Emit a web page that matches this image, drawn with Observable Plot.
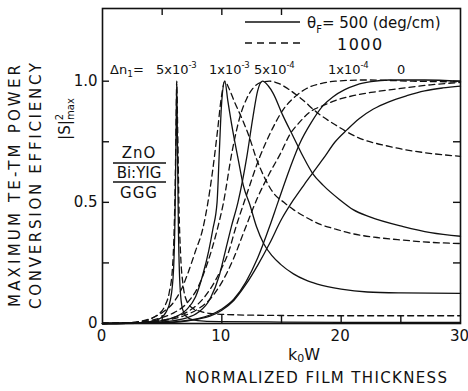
<!DOCTYPE html>
<html><head><meta charset="utf-8">
<script src="https://cdn.jsdelivr.net/npm/d3@7"></script>
<script src="https://cdn.jsdelivr.net/npm/@observablehq/plot@0.6"></script>
<style>
body{margin:0;background:#fff;}
#wrap{position:relative;width:468px;height:391px;font-family:"DejaVu Sans",sans-serif;color:#111;}
#wrap svg{display:block;}
#ov{position:absolute;left:0;top:0;pointer-events:none;}
</style></head><body><div id="wrap"></div>
<script>
// ---- tick values ----
const xTickLabels = [0, 10, 20, 30];
const xTicksBottom = [5, 10, 15, 20, 25];
const xTicksTop = [5, 10, 15];
const yTickLabels = [0, 0.5, 1.0];
const yTicksSide = [0.25, 0.5, 0.75, 1.0];

// ---- curves: [k0W, |S|^2max] ----
// theta_F = 500 deg/cm (solid)
const s5e3 = [[0,0],[2,0.001],[3,0.003],[4,0.008],[4.8,0.02],[5.3,0.045],[5.7,0.1],[5.95,0.22],[6.08,0.45],[6.17,0.8],[6.22,0.99],[6.28,0.75],[6.36,0.4],[6.5,0.15],[6.7,0.06],[7,0.03],[7.6,0.015],[8.5,0.01],[10,0.008],[15,0.006],[20,0.005],[30,0.005]];
const s1e3 = [[0,0],[2,0.001],[3,0.003],[4,0.006],[5,0.012],[6,0.025],[7,0.055],[7.8,0.11],[8.4,0.2],[8.9,0.3],[9.25,0.39],[9.6,0.5],[9.8,0.72],[9.97,0.9],[10.25,1.0],[10.5,0.92],[10.9,0.8],[11.4,0.67],[11.8,0.57],[12.35,0.49],[12.9,0.4],[13.5,0.33],[14.2,0.28],[14.9,0.245],[16,0.205],[17,0.18],[18,0.163],[20,0.142],[22.2,0.13],[25,0.126],[30,0.124]];
const s5e4 = [[0,0],[2,0.001],[4,0.004],[6,0.012],[7,0.022],[8,0.045],[9,0.1],[9.8,0.2],[10.3,0.3],[10.8,0.4],[11.35,0.5],[12.1,0.69],[12.6,0.85],[13.0,0.96],[13.4,1.0],[13.9,0.98],[14.3,0.95],[15.1,0.86],[16,0.77],[16.8,0.69],[17.6,0.62],[18.5,0.57],[19.9,0.51],[21,0.47],[22.4,0.44],[25.2,0.4],[27.5,0.375],[30,0.36]];
const s1e4 = [[0,0],[3,0.001],[5,0.004],[6,0.007],[8,0.02],[9,0.035],[10,0.06],[11,0.1],[12,0.17],[13,0.27],[14,0.4],[14.7,0.5],[15.7,0.64],[16.5,0.74],[17.5,0.83],[18.5,0.9],[19.3,0.935],[20.3,0.965],[21.3,0.985],[22.5,0.998],[24,1.005],[27,1.005],[30,1.0]];
const s0 = [[0,0],[3,0.001],[5,0.003],[6,0.005],[7,0.01],[8,0.018],[9,0.03],[10,0.055],[11,0.095],[12,0.16],[13,0.24],[14,0.33],[15,0.43],[16,0.51],[17,0.58],[17.6,0.62],[18.5,0.68],[19.5,0.75],[20.5,0.8],[21.5,0.845],[22.7,0.885],[24,0.915],[25.5,0.94],[27,0.96],[28.5,0.972],[30,0.98]];
// theta_F = 1000 deg/cm (dashed)
const d5e3 = [[0,0],[2,0.002],[3,0.006],[4,0.018],[4.6,0.035],[5.2,0.07],[5.6,0.13],[5.85,0.22],[6.0,0.38],[6.1,0.6],[6.17,0.85],[6.22,1.0],[6.3,0.8],[6.4,0.5],[6.55,0.28],[6.75,0.16],[7,0.1],[7.5,0.065],[8.2,0.05],[9,0.042],[11,0.036],[15,0.033],[20,0.032],[30,0.032]];
const d1e3 = [[0,0],[2,0.003],[3,0.008],[4,0.02],[5,0.045],[6,0.09],[6.6,0.14],[7.1,0.2],[7.8,0.3],[8.4,0.39],[8.8,0.49],[9.2,0.62],[9.65,0.8],[9.95,0.93],[10.25,1.0],[10.6,0.97],[11.1,0.91],[11.65,0.85],[12.3,0.77],[12.9,0.68],[13.6,0.6],[14.3,0.54],[15.2,0.5],[16,0.47],[17,0.44],[18.2,0.41],[19.5,0.39],[21,0.37],[23,0.355],[25,0.345],[27.5,0.335],[30,0.33]];
const d5e4 = [[0,0],[2,0.002],[4,0.012],[5,0.025],[6,0.045],[7,0.08],[8,0.15],[8.8,0.25],[9.6,0.385],[10.1,0.49],[10.9,0.72],[11.5,0.85],[12.1,0.93],[12.6,0.97],[13.3,0.995],[14.0,1.0],[14.8,0.99],[15.5,0.97],[16.6,0.93],[18,0.87],[19.5,0.82],[21.3,0.77],[24.1,0.73],[27,0.705],[30,0.69]];
const d1e4 = [[0,0],[2,0.002],[4,0.008],[6,0.025],[7,0.045],[8,0.08],[9,0.14],[10,0.23],[10.6,0.3],[11.1,0.385],[12,0.52],[13.2,0.69],[14.2,0.8],[15.1,0.88],[16,0.93],[17.1,0.97],[18.3,0.99],[19.5,1.0],[22,1.005],[26,1.0],[30,0.997]];
const d0 = [[0,0],[2,0.002],[4,0.006],[6,0.02],[7,0.035],[8,0.06],[9,0.1],[10,0.17],[11,0.27],[11.9,0.385],[13,0.52],[14,0.62],[14.9,0.7],[15.7,0.78],[16.5,0.83],[17.3,0.87],[18.5,0.9],[19.5,0.92],[21,0.94],[22.7,0.955],[25,0.97],[27.5,0.985],[30,0.995]];

const solidSeries = {s5e3, s1e3, s5e4, s1e4, s0};
const dashedSeries = {d5e3, d1e3, d5e4, d1e4, d0};
const toRows = obj => Object.entries(obj).flatMap(([id, pts]) => pts.map(([x, y]) => ({id, x, y})));
const solidRows = toRows(solidSeries);
const dashedRows = toRows(dashedSeries);

const W = 468, H = 391;
const mL = 102, mR = 8, mT = 8, mB = 68;
const fw = W - mL - mR, fh = H - mT - mB;
const tick = 7;
const ink = "#111";
const chart = Plot.plot({
  width: W, height: H,
  marginLeft: mL, marginRight: mR, marginTop: mT, marginBottom: mB,
  style: {fontFamily: '"DejaVu Sans", sans-serif', fontSize: "15px", color: ink, background: "#fff"},
  x: {domain: [0, 30]},
  y: {domain: [0, 1.3]},
  marks: [
    Plot.line(solidRows, {x: "x", y: "y", z: "id", curve: "monotone-x", stroke: ink, strokeWidth: 1.3}),
    Plot.line(dashedRows, {x: "x", y: "y", z: "id", curve: "monotone-x", stroke: ink, strokeWidth: 1.3, strokeDasharray: "6,4"}),
    // inward ticks
    Plot.ruleX(xTicksBottom, {x: d => d, insetTop: fh - tick - 1, stroke: ink, strokeWidth: 1.4}),
    Plot.ruleX(xTicksTop, {x: d => d, insetBottom: fh - tick, stroke: ink, strokeWidth: 1.4}),
    Plot.ruleY(yTicksSide, {y: d => d, insetRight: fw - tick, stroke: ink, strokeWidth: 1.4}),
    Plot.ruleY(yTicksSide, {y: d => d, insetLeft: fw - tick, stroke: ink, strokeWidth: 1.4}),
    Plot.frame({stroke: ink, strokeWidth: 1.6}),
    Plot.axisX({anchor: "bottom", ticks: xTickLabels, tickSize: 0, tickPadding: 7, dx: -1, label: null}),
    Plot.axisY({anchor: "left", ticks: yTickLabels, tickSize: 0, tickPadding: 5, tickFormat: d => d === 0 ? "0" : d.toFixed(1), label: null})
  ]
});
const wrap = document.getElementById("wrap");
wrap.appendChild(chart);

// ---- overlay annotations ----
const ov = d3.select(wrap).append("svg").attr("id", "ov").attr("width", W).attr("height", H)
  .attr("font-family", '"DejaVu Sans", sans-serif').attr("fill", ink);

// legend
ov.append("line").attr("x1", 245).attr("x2", 300).attr("y1", 22).attr("y2", 22).attr("stroke", ink).attr("stroke-width", 1.5);
ov.append("line").attr("x1", 245).attr("x2", 303).attr("y1", 43).attr("y2", 43).attr("stroke", ink).attr("stroke-width", 1.5).attr("stroke-dasharray", "7,5");
const lg1 = ov.append("text").attr("x", 307).attr("y", 28).attr("font-size", 15);
lg1.append("tspan").text("θ");
lg1.append("tspan").attr("font-size", 10).attr("dy", 5).text("F");
lg1.append("tspan").attr("dy", -5).text("= 500 (deg/cm)");
ov.append("text").attr("x", 337).attr("y", 50).attr("font-size", 16).attr("letter-spacing", 1.5).text("1000");

// delta n labels
const dnLabels = [
  {x: 110, base: "Δn", sub: "1", tail: "="},
  {x: 156, base: "5x10", sup: "-3"},
  {x: 209, base: "1x10", sup: "-3"},
  {x: 254, base: "5x10", sup: "-4"},
  {x: 328, base: "1x10", sup: "-4"},
  {x: 397, base: "0"}
];
dnLabels.forEach(d => {
  const t = ov.append("text").attr("x", d.x).attr("y", 74).attr("font-size", 13);
  t.append("tspan").text(d.base);
  if (d.sub) { t.append("tspan").attr("font-size", 9).attr("dy", 3).text(d.sub); t.append("tspan").attr("dy", -3).text(d.tail); }
  if (d.sup) { t.append("tspan").attr("font-size", 8.5).attr("dy", -6).attr("letter-spacing", -0.3).text(d.sup); }
});

// layer structure inset
ov.append("text").attr("x", 139).attr("y", 158).attr("text-anchor", "middle").attr("font-size", 15).attr("letter-spacing", 1).text("ZnO");
ov.append("line").attr("x1", 113).attr("x2", 166).attr("y1", 163).attr("y2", 163).attr("stroke", ink).attr("stroke-width", 1.5);
ov.append("text").attr("x", 139).attr("y", 178).attr("text-anchor", "middle").attr("font-size", 15).text("Bi:YIG");
ov.append("line").attr("x1", 113).attr("x2", 166).attr("y1", 182).attr("y2", 182).attr("stroke", ink).attr("stroke-width", 1.5);
ov.append("text").attr("x", 139).attr("y", 198).attr("text-anchor", "middle").attr("font-size", 15).attr("letter-spacing", 1).text("GGG");

// y title (rotated)
ov.append("text").attr("transform", "translate(20,186) rotate(-90)").attr("text-anchor", "middle")
  .attr("font-size", 15).attr("textLength", 242).attr("lengthAdjust", "spacing").text("MAXIMUM TE-TM POWER");
ov.append("text").attr("transform", "translate(41,186) rotate(-90)").attr("text-anchor", "middle")
  .attr("font-size", 15).attr("textLength", 246).attr("lengthAdjust", "spacing").text("CONVERSION EFFICIENCY");
const ys = ov.append("text").attr("transform", "translate(70,119) rotate(-90)").attr("text-anchor", "middle").attr("font-size", 15);
ys.append("tspan").text("|S|");
ys.append("tspan").attr("font-size", 10).attr("dy", -7).text("2");
ys.append("tspan").attr("font-size", 10).attr("dx", -6).attr("dy", 11).text("max");

// x title
const kx = ov.append("text").attr("x", 304).attr("y", 360).attr("text-anchor", "middle").attr("font-size", 16);
kx.append("tspan").text("k");
kx.append("tspan").attr("font-size", 11).attr("dy", 2).text("0");
kx.append("tspan").attr("dy", -2).text("W");
ov.append("text").attr("x", 316).attr("y", 383).attr("text-anchor", "middle").attr("font-size", 15)
  .attr("textLength", 262).attr("lengthAdjust", "spacing").text("NORMALIZED FILM THICKNESS");
</script></body></html>
